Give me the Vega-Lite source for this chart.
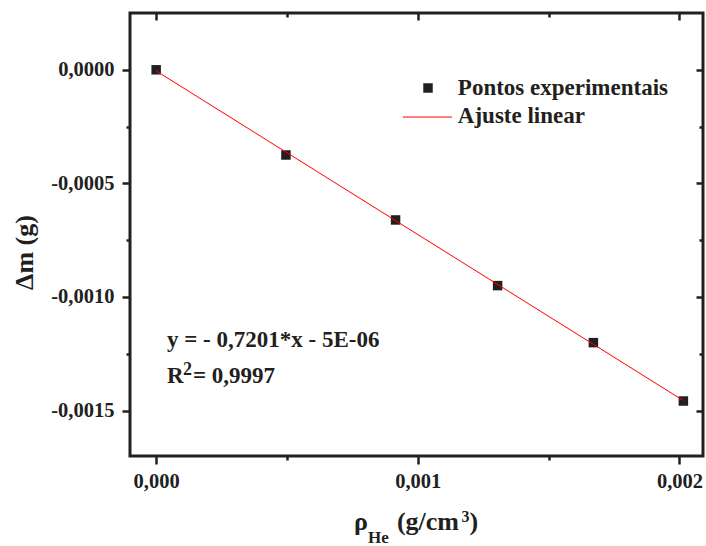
{
  "$schema": "https://vega.github.io/schema/vega-lite/v6.json",
  "width": 573,
  "height": 443,
  "autosize": {"type": "none"},
  "padding": {"left": 130, "top": 13, "right": 3, "bottom": 90},
  "background": "white",
  "config": {
    "view": {"stroke": "#231f20", "strokeWidth": 3},
    "axis": {
      "grid": false,
      "domain": false,
      "tickColor": "#231f20",
      "tickWidth": 2.5,
      "labelFont": "Liberation Serif",
      "labelFontWeight": "bold",
      "labelFontSize": 20.5,
      "labelColor": "#231f20",
      "labelFlush": false,
      "labelOverlap": false,
      "titleFont": "Liberation Serif",
      "titleFontWeight": "bold",
      "titleFontSize": 26,
      "titleColor": "#231f20"
    }
  },
  "layer": [
    {
      "data": {"values": [
        {"x": 0, "y": 0},
        {"x": 0.000496, "y": -0.000375},
        {"x": 0.000915, "y": -0.000661},
        {"x": 0.001305, "y": -0.00095},
        {"x": 0.001671, "y": -0.001201},
        {"x": 0.002015, "y": -0.001458}
      ]},
      "mark": {"type": "square", "size": 90, "color": "#231f20", "opacity": 1},
      "encoding": {
        "x": {"field": "x", "type": "quantitative",
          "scale": {"domain": [-0.0001, 0.00209], "nice": false, "zero": false},
          "axis": {"orient": "bottom", "values": [0, 0.001, 0.002], "tickSize": 8, "labelPadding": 7,
            "labelExpr": "(datum.value < 0 ? '-' : '') + replace(format(abs(datum.value), '.3f'), '.', ',')",
            "title": null}},
        "y": {"field": "y", "type": "quantitative",
          "scale": {"domain": [-0.0017, 0.00025], "nice": false, "zero": false},
          "axis": {"orient": "left", "values": [0, -0.0005, -0.001, -0.0015], "tickSize": 8, "labelPadding": 8,
            "labelExpr": "(datum.value < 0 ? '-' : '') + replace(format(abs(datum.value), '.4f'), '.', ',')",
            "title": "Δm (g)", "titleAngle": -90, "titleX": -98, "titleY": 239, "titleAlign": "center", "titleBaseline": "alphabetic"}}
      }
    },
    {
      "data": {"values": [
        {"x": 0, "y": -0.000005},
        {"x": 0.002015, "y": -0.001456}
      ]},
      "mark": {"type": "line", "color": "#ff0000", "strokeWidth": 1},
      "encoding": {
        "x": {"field": "x", "type": "quantitative",
          "scale": {"domain": [-0.0001, 0.00209], "nice": false, "zero": false},
          "axis": {"orient": "top", "values": [0, 0.001, 0.002], "tickSize": -7, "labels": false, "title": null}},
        "y": {"field": "y", "type": "quantitative",
          "scale": {"domain": [-0.0017, 0.00025], "nice": false, "zero": false},
          "axis": {"orient": "right", "values": [0, -0.0005, -0.001, -0.0015], "tickSize": -7, "labels": false, "title": null}}
      }
    },
    {
      "data": {"values": [{"x": 0, "y": 0}]},
      "mark": {"type": "square", "opacity": 0},
      "encoding": {
        "x": {"field": "x", "type": "quantitative",
          "scale": {"domain": [-0.0001, 0.00209], "nice": false, "zero": false},
          "axis": {"orient": "bottom", "values": [0.0005, 0.0015], "tickSize": 4, "labels": false, "title": null}},
        "y": {"field": "y", "type": "quantitative",
          "scale": {"domain": [-0.0017, 0.00025], "nice": false, "zero": false},
          "axis": {"orient": "left", "values": [-0.00025, -0.00075, -0.00125], "tickSize": 4, "labels": false, "title": null}}
      }
    },
    {
      "data": {"values": [{"x": 0, "y": 0}]},
      "mark": {"type": "square", "opacity": 0},
      "encoding": {
        "x": {"field": "x", "type": "quantitative",
          "scale": {"domain": [-0.0001, 0.00209], "nice": false, "zero": false},
          "axis": {"orient": "top", "values": [0.0005, 0.0015], "tickSize": -4, "labels": false, "title": null}},
        "y": {"field": "y", "type": "quantitative",
          "scale": {"domain": [-0.0017, 0.00025], "nice": false, "zero": false},
          "axis": {"orient": "right", "values": [-0.00025, -0.00075, -0.00125], "tickSize": -4, "labels": false, "title": null}}
      }
    },
    {
      "data": {"values": [{}]},
      "mark": {"type": "square", "size": 90, "color": "#231f20", "opacity": 1},
      "encoding": {
        "x": {"datum": 0.001039, "type": "quantitative", "axis": null},
        "y": {"datum": -0.0000801, "type": "quantitative", "axis": null}
      }
    },
    {
      "data": {"values": [{}]},
      "mark": {"type": "rule", "color": "#ff0000", "strokeWidth": 1},
      "encoding": {
        "x": {"datum": 0.000943, "type": "quantitative", "axis": null},
        "x2": {"datum": 0.001131},
        "y": {"datum": -0.000208, "type": "quantitative", "axis": null}
      }
    },
    {
      "data": {"values": [{}]},
      "mark": {"type": "text", "text": "Pontos experimentais", "font": "Liberation Serif", "fontWeight": "bold", "fontSize": 23, "color": "#231f20", "align": "left", "baseline": "alphabetic"},
      "encoding": {
        "x": {"datum": 0.001153, "type": "quantitative", "axis": null},
        "y": {"datum": -0.000111, "type": "quantitative", "axis": null}
      }
    },
    {
      "data": {"values": [{}]},
      "mark": {"type": "text", "text": "Ajuste linear", "font": "Liberation Serif", "fontWeight": "bold", "fontSize": 23, "color": "#231f20", "align": "left", "baseline": "alphabetic"},
      "encoding": {
        "x": {"datum": 0.001153, "type": "quantitative", "axis": null},
        "y": {"datum": -0.000234, "type": "quantitative", "axis": null}
      }
    },
    {
      "data": {"values": [{}]},
      "mark": {"type": "text", "text": "y = - 0,7201*x - 5E-06", "font": "Liberation Serif", "fontWeight": "bold", "fontSize": 23, "color": "#231f20", "align": "left", "baseline": "alphabetic"},
      "encoding": {
        "x": {"datum": 0.0000413, "type": "quantitative", "axis": null},
        "y": {"datum": -0.00122, "type": "quantitative", "axis": null}
      }
    },
    {
      "data": {"values": [{}]},
      "mark": {"type": "text", "text": "R", "font": "Liberation Serif", "fontWeight": "bold", "fontSize": 23, "color": "#231f20", "align": "left", "baseline": "alphabetic"},
      "encoding": {
        "x": {"datum": 0.0000413, "type": "quantitative", "axis": null},
        "y": {"datum": -0.001379, "type": "quantitative", "axis": null}
      }
    },
    {
      "data": {"values": [{}]},
      "mark": {"type": "text", "text": "2", "font": "Liberation Serif", "fontWeight": "bold", "fontSize": 18, "color": "#231f20", "align": "left", "baseline": "alphabetic"},
      "encoding": {
        "x": {"datum": 0.0001024, "type": "quantitative", "axis": null},
        "y": {"datum": -0.001343, "type": "quantitative", "axis": null}
      }
    },
    {
      "data": {"values": [{}]},
      "mark": {"type": "text", "text": "= 0,9997", "font": "Liberation Serif", "fontWeight": "bold", "fontSize": 23, "color": "#231f20", "align": "left", "baseline": "alphabetic"},
      "encoding": {
        "x": {"datum": 0.0001406, "type": "quantitative", "axis": null},
        "y": {"datum": -0.001379, "type": "quantitative", "axis": null}
      }
    },
    {
      "data": {"values": [{}]},
      "mark": {"type": "text", "text": "ρ", "font": "Liberation Serif", "fontWeight": "bold", "fontSize": 26, "color": "#231f20", "align": "left", "baseline": "alphabetic"},
      "encoding": {
        "x": {"datum": 0.000756, "type": "quantitative", "axis": null},
        "y": {"datum": -0.002026, "type": "quantitative", "axis": null}
      }
    },
    {
      "data": {"values": [{}]},
      "mark": {"type": "text", "text": "He", "font": "Liberation Serif", "fontWeight": "bold", "fontSize": 17, "color": "#231f20", "align": "left", "baseline": "alphabetic"},
      "encoding": {
        "x": {"datum": 0.00081, "type": "quantitative", "axis": null},
        "y": {"datum": -0.002083, "type": "quantitative", "axis": null}
      }
    },
    {
      "data": {"values": [{}]},
      "mark": {"type": "text", "text": "(g/cm", "font": "Liberation Serif", "fontWeight": "bold", "fontSize": 26, "color": "#231f20", "align": "left", "baseline": "alphabetic"},
      "encoding": {
        "x": {"datum": 0.00092, "type": "quantitative", "axis": null},
        "y": {"datum": -0.002026, "type": "quantitative", "axis": null}
      }
    },
    {
      "data": {"values": [{}]},
      "mark": {"type": "text", "text": "3", "font": "Liberation Serif", "fontWeight": "bold", "fontSize": 16, "color": "#231f20", "align": "left", "baseline": "alphabetic"},
      "encoding": {
        "x": {"datum": 0.001167, "type": "quantitative", "axis": null},
        "y": {"datum": -0.001991, "type": "quantitative", "axis": null}
      }
    },
    {
      "data": {"values": [{}]},
      "mark": {"type": "text", "text": ")", "font": "Liberation Serif", "fontWeight": "bold", "fontSize": 26, "color": "#231f20", "align": "left", "baseline": "alphabetic"},
      "encoding": {
        "x": {"datum": 0.001198, "type": "quantitative", "axis": null},
        "y": {"datum": -0.002026, "type": "quantitative", "axis": null}
      }
    }
  ],
  "resolve": {"axis": {"x": "independent", "y": "independent"}}
}
